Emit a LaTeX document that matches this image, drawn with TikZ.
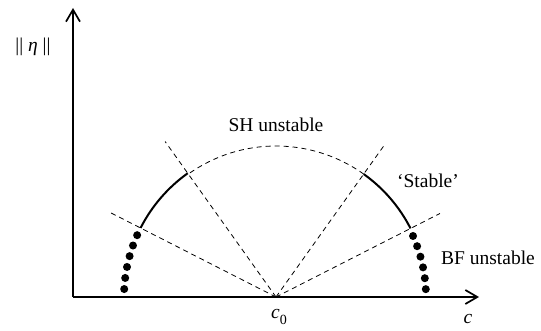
\documentclass[tikz,border=0pt]{standalone}
\usepackage{fontspec}
\setmainfont{Liberation Serif}
\usetikzlibrary{arrows.meta}
\begin{document}
\begin{tikzpicture}[x=1pt,y=1pt,
  axis/.style={line width=2pt,-{Straight Barb[length=12pt,width=14pt,line width=1.7pt]}},
  ray/.style={line width=0.8pt,dash pattern=on 5pt off 4pt},
  solidarc/.style={line width=2pt},
  dotmark/.style={circle,fill=black,inner sep=0pt,minimum size=8pt},
  lbl/.style={font=\fontsize{19.5}{19.5}\selectfont,inner sep=0pt}]
\useasboundingbox (0,0) rectangle (541,330);
\coordinate (O) at (276,33);
\coordinate (ybot) at (73,33);
\coordinate (ytop) at (73,322);
\coordinate (xend) at (479,33);
% axes
\draw[axis] (ybot) -- (ytop);
\draw[axis] (ybot) -- (xend);
% rays
\draw[ray] (O) -- ++(153:187);
\draw[ray] (O) -- ++(125.5:191);
\draw[ray] (O) -- ++(54.5:185);
\draw[ray] (O) -- ++(27:184);
% dashed arc
\draw[ray] ([shift={(54.5:151)}]O) arc[start angle=54.5,end angle=125.5,radius=151];
% solid arcs
\draw[solidarc] ([shift={(125.5:152)}]O) arc[start angle=125.5,end angle=153,radius=152];
\draw[solidarc] ([shift={(27:151)}]O) arc[start angle=27,end angle=54.5,radius=151];
% dots
\foreach \a [count=\i] in {24,19.8,15.6,11.4,7.2,3}{
  \node[dotmark] (l\i) at ([shift={(180-\a:152)}]O) {};
  \node[dotmark] (r\i) at ([shift={(\a:150)}]O) {};
}
% labels
\node[lbl] (eta) at (33,283) {|| {\itshape η} ||};
\node[lbl] (sh) at (276,205) {SH unstable};
\node[lbl] (st) at (428,149) {‘Stable’};
\node[lbl] (bf) at (488,72) {BF unstable};
\node[lbl] (c) at (468,11) {\itshape c};
\node[lbl] (c0) at (279,13) {{\itshape c}\raisebox{-0.3em}{\fontsize{14}{14}\selectfont 0}};
\end{tikzpicture}
\end{document}
